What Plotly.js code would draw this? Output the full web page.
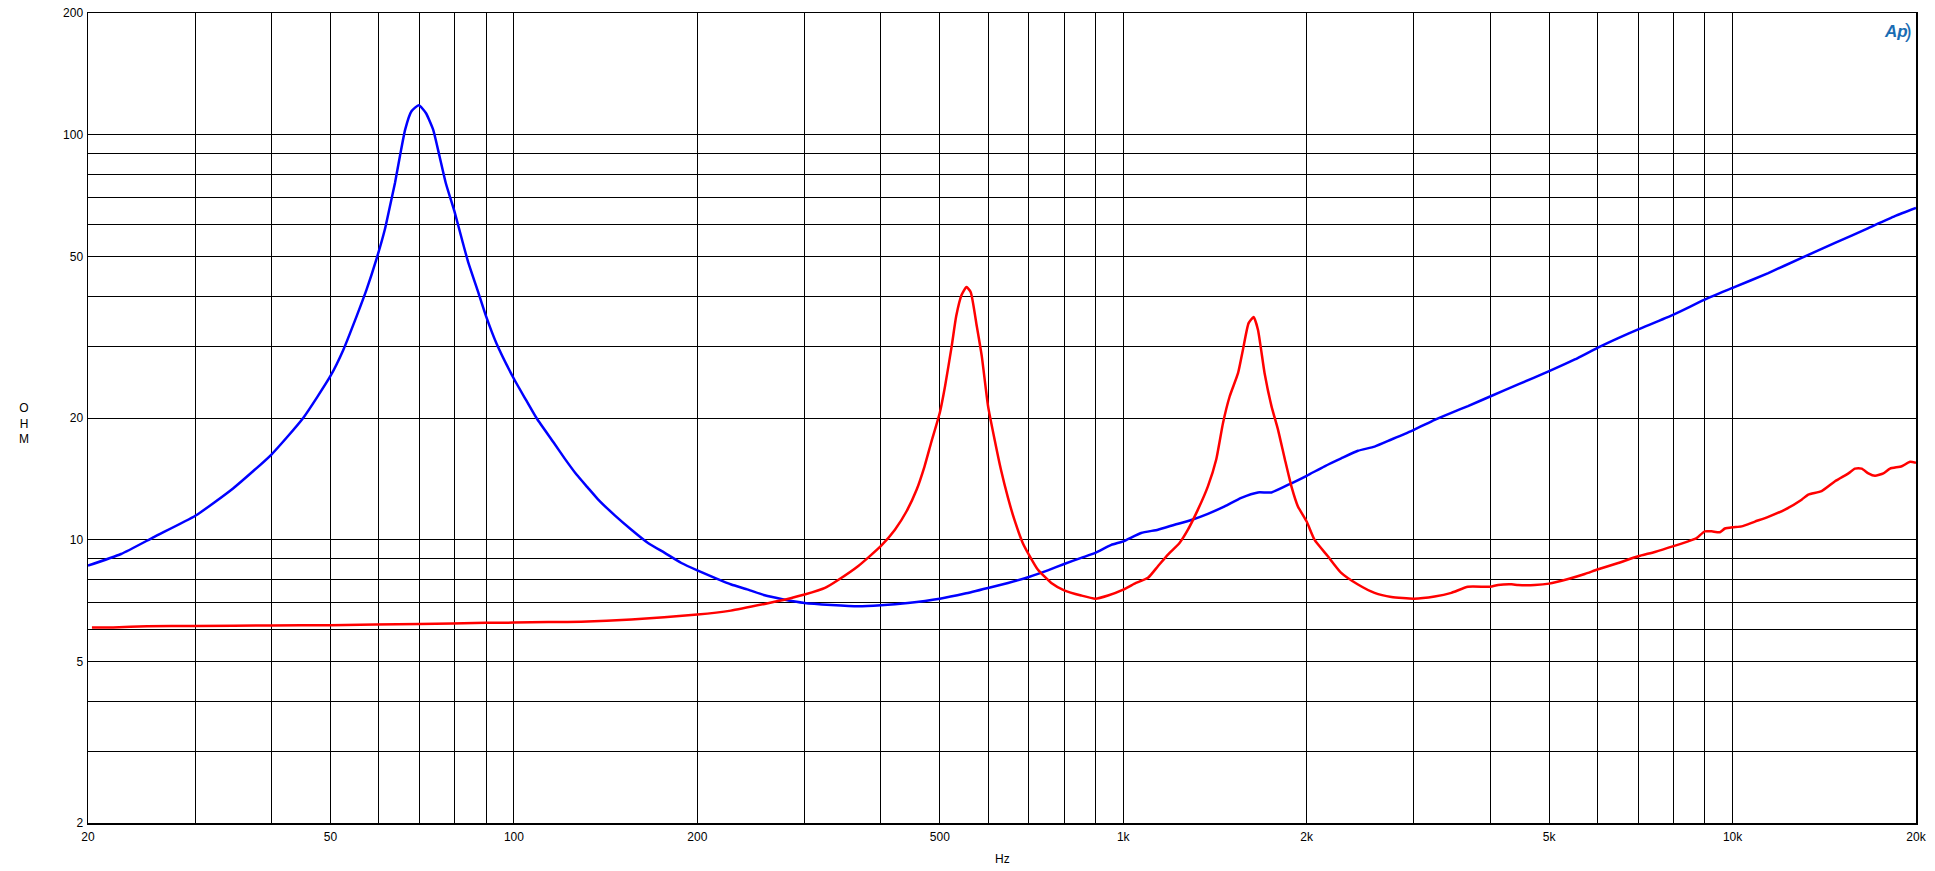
<!DOCTYPE html>
<html>
<head>
<meta charset="utf-8">
<script src="https://cdn.plot.ly/plotly-3.0.1.min.js"></script>
<style>html,body{margin:0;padding:0;background:#fff;}#chart{width:1935px;height:871px;}</style>
</head>
<body>
<div id="chart"></div>
<script>
// Blue impedance curve (Hz, Ohm)
const blueFreq = [20,22.66,25.7,30,34.6,40,45.1,50,52.5,55.2,57.3,59.4,61.4,62.6,63.8,65.0,66.3,67.9,69.8,71.7,73.7,75.5,77.3,80,82.2,84.2,87.1,90,93.6,100,104.6,108.9,116.2,121.1,126.7,132,137.4,146.4,155.9,166,176.8,188.3,200,213.6,227.4,242.2,258,274.8,300,332,367,400,443,500,550,600,647,700,752,800,853,900,956,1000,1070,1140,1214,1293,1377,1467,1562,1664,1751,1888,2000,2140,2279,2428,2585,2755,3000,3244,3455,3679,4000,4447,5000,5509,6000,6491,7000,8000,9000,10000,11444,12982,14727,16706,18464,20000];
const blueOhm = [8.64,9.23,10.18,11.47,13.4,16.25,20.0,25.4,29.5,35.7,41.5,49.0,58.4,66.7,76.1,88.6,103.1,114.4,118.4,113.3,103.1,88.6,76.1,64.2,55.1,48.3,41.5,35.7,30.6,25.0,22.2,20.0,17.4,15.9,14.5,13.5,12.6,11.5,10.6,9.83,9.29,8.77,8.41,8.06,7.76,7.54,7.30,7.15,6.99,6.91,6.86,6.90,6.99,7.16,7.37,7.61,7.83,8.10,8.41,8.72,9.03,9.29,9.72,9.92,10.4,10.6,10.9,11.2,11.6,12.1,12.7,13.1,13.1,13.8,14.4,15.2,15.9,16.6,17.0,17.7,18.7,19.8,20.6,21.4,22.6,24.2,26.1,27.9,29.8,31.5,33.1,36.0,39.2,41.9,45.6,49.7,54.1,58.9,63.0,66.0];

// Red impedance curve (Hz, Ohm)
const redFreq = [20.3,22,25,30,40,50,70,90,100,113.9,129,155.9,200,227,258,278,300,324,340,367,400,422,441,458,472,484,500,510,523,532,543,553,562,575,586,600,615,630,647,663,684,700,724,762,800,853,900,944,1000,1044,1098,1140,1184,1237,1277,1326,1377,1421,1458,1495,1543,1572,1606,1637,1664,1706,1751,1795,1842,1888,1935,2000,2061,2167,2279,2428,2585,2755,3000,3244,3455,3679,4000,4122,4339,4447,4735,5000,5373,5721,6000,6491,7000,7455,8000,8456,8728,9000,9237,9532,9714,10000,10346,10882,11444,12189,12982,13310,14000,14727,15490,15880,16290,16706,17130,17680,18130,18950,19560,20000];
const redOhm = [6.08,6.08,6.12,6.13,6.15,6.16,6.2,6.24,6.25,6.27,6.28,6.36,6.54,6.69,6.95,7.12,7.33,7.61,7.95,8.61,9.65,10.6,11.77,13.3,15.2,17.4,20.6,23.96,30.1,35.7,40.3,42.1,40.9,33.7,28.4,21.4,17.7,14.9,12.7,11.2,9.83,9.20,8.45,7.83,7.51,7.29,7.16,7.29,7.54,7.80,8.06,8.61,9.20,9.83,10.6,11.88,13.56,15.8,19.45,22.6,25.8,29.5,34.3,35.5,33.0,25.8,21.4,18.7,15.8,13.56,12.1,11.1,10.0,9.11,8.29,7.76,7.40,7.23,7.16,7.25,7.40,7.66,7.66,7.74,7.77,7.74,7.74,7.80,8.01,8.24,8.45,8.77,9.11,9.34,9.65,9.92,10.1,10.5,10.5,10.45,10.67,10.75,10.8,11.1,11.4,11.88,12.57,12.94,13.2,13.96,14.6,15.0,15.0,14.6,14.4,14.6,15.0,15.2,15.6,15.5];

// Axis ticks / gridlines
const xTickVals = [20,30,40,50,60,70,80,90,100,200,300,400,500,600,700,800,900,1000,2000,3000,4000,5000,6000,7000,8000,9000,10000,20000];
const xTickText = ['20','','','50','','','','','100','200','','','500','','','','','1k','2k','','','5k','','','','','10k','20k'];
const yTickVals = [2,3,4,5,6,7,8,9,10,20,30,40,50,60,70,80,90,100,200];
const yTickText = ['2','','','5','','','','','10','20','','','50','','','','','100','200'];

const xTitle = 'Hz';
const yTitle = 'O<br>H<br>M';

const fontFam = '"Liberation Sans", Arial, sans-serif';

const traces = [
  {x: blueFreq, y: blueOhm, type: 'scatter', mode: 'lines',
   line: {color: '#0000ff', width: 2.5, shape: 'spline', smoothing: 0.5}, hoverinfo: 'skip'},
  {x: redFreq, y: redOhm, type: 'scatter', mode: 'lines',
   line: {color: '#ff0000', width: 2.5, shape: 'spline', smoothing: 0.5}, hoverinfo: 'skip'}
];

const layout = {
  width: 1935, height: 871,
  margin: {l: 88, r: 19, t: 13, b: 48},
  paper_bgcolor: '#ffffff', plot_bgcolor: '#ffffff',
  showlegend: false,
  font: {family: fontFam, size: 12, color: '#000'},
  xaxis: {
    type: 'log', range: [Math.log10(20), Math.log10(20000)],
    tickvals: xTickVals, ticktext: xTickText, ticks: '',
    showgrid: true, gridcolor: '#000', gridwidth: 1,
    showline: true, linecolor: '#000', linewidth: 1.5, mirror: true,
    zeroline: false, tickfont: {family: fontFam, size: 12, color: '#000'},
    ticklabelstandoff: 2
  },
  yaxis: {
    type: 'log', range: [Math.log10(2), Math.log10(200)],
    tickvals: yTickVals, ticktext: yTickText, ticks: '',
    showgrid: true, gridcolor: '#000', gridwidth: 1,
    showline: true, linecolor: '#000', linewidth: 1.5, mirror: true,
    zeroline: false, tickfont: {family: fontFam, size: 12, color: '#000'},
    ticklabelstandoff: 1
  },
  annotations: [
    {text: xTitle, xref: 'paper', yref: 'paper', x: 0.5, y: 0, yshift: -36,
     showarrow: false, xanchor: 'center', yanchor: 'middle',
     font: {family: fontFam, size: 12, color: '#000'}},
    {text: yTitle, xref: 'paper', yref: 'paper', x: 0, xshift: -64, y: 0.5, yshift: -5,
     showarrow: false, xanchor: 'center', yanchor: 'middle',
     font: {family: fontFam, size: 12, color: '#000'}},
    {text: '<i><b>Ap</b></i>', xref: 'paper', yref: 'paper', x: 1, xshift: -20, y: 1, yshift: -18,
     showarrow: false, xanchor: 'center', yanchor: 'middle',
     font: {family: fontFam, size: 17, color: '#1a6db3'}},
    {text: ')', xref: 'paper', yref: 'paper', x: 1, xshift: -8, y: 1, yshift: -18,
     showarrow: false, xanchor: 'center', yanchor: 'middle',
     font: {family: fontFam, size: 20, color: '#1a6db3'}}
  ]
};

Plotly.newPlot('chart', traces, layout, {staticPlot: true, displayModeBar: false});
</script>
</body>
</html>
